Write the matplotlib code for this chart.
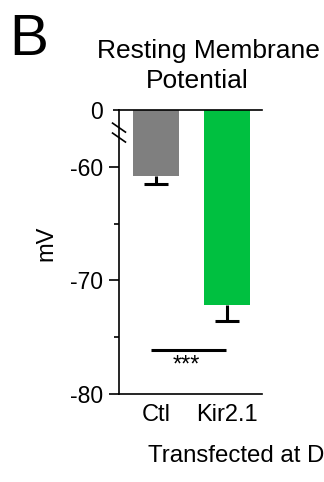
import matplotlib
matplotlib.use('Agg')
import matplotlib.pyplot as plt
import numpy as np

plt.rcParams['font.family'] = ['Liberation Sans', 'DejaVu Sans']

# ---- data ----
categories = ['Ctl', 'Kir2.1']
means = [-60.77, -72.20]
sems = [0.75, 1.37]
bar_colors = ['#7f7f7f', '#00c040']
axis_top = -55            # displayed as "0" (broken axis)
ytick_values = [-55, -60, -70, -80]
ytick_labels = ['0', '-60', '-70', '-80']
minor_tick_values = [-65, -75]
sig_span = [-0.07, 0.99]
sig_y = -76.17
sig_label = '***'
title_lines = ['Resting Membrane', 'Potential']
panel_label = 'B'
ylabel = 'mV'
xlabel = 'Transfected at D'

W, H = 324, 482
fig = plt.figure(figsize=(W / 100, H / 100), dpi=100)
ax = fig.add_axes([119 / W, 1 - 394 / H, 143 / W, 284 / H])

x = np.arange(len(categories))
means_arr = np.array(means)
sems_arr = np.array(sems)

ax.bar(x, means_arr - axis_top, bottom=axis_top, width=0.66,
       color=bar_colors, zorder=2)
ax.vlines(x, means_arr, means_arr - sems_arr, color='black', lw=2.2, zorder=3)
ax.hlines(means_arr - sems_arr, x - 0.17, x + 0.17, color='black', lw=2.2, zorder=3)

# significance
ax.plot(sig_span, [sig_y, sig_y], color='black', lw=2.2, solid_capstyle='butt')
ax.text(np.mean(sig_span) - 0.03, sig_y - 0.35, sig_label, ha='center', va='top',
        fontsize=17)

ax.set_xlim(-0.521, 1.493)
ax.set_ylim(-80, axis_top)

ax.set_yticks(ytick_values)
ax.set_yticklabels(ytick_labels)
ax.set_yticks(minor_tick_values, minor=True)
ax.tick_params(axis='y', which='major', length=7, width=1.2, pad=4.5, labelsize=16.5)
ax.tick_params(axis='y', which='minor', length=3.6, width=1.2)
ax.yaxis.get_major_ticks()[0].tick1line.set_markersize(4.5)

ax.set_xticks(x)
ax.set_xticklabels(categories)
ax.tick_params(axis='x', length=0, pad=7, labelsize=17)

for side in ['left', 'top', 'bottom']:
    ax.spines[side].set_linewidth(1.2)
ax.spines['right'].set_visible(False)

# axis break marks
for yc in [0.938, 0.903]:
    ax.plot([-0.045, 0.045], [yc + 0.0158, yc - 0.0158], transform=ax.transAxes,
            color='black', lw=1.2, clip_on=False)

# texts
fig.text(9 / W, 1 - 55 / H, panel_label, fontsize=42, ha='left', va='baseline')
fig.text(208 / W, 1 - 58 / H, title_lines[0], fontsize=19, ha='center', va='baseline')
fig.text(197 / W, 1 - 88 / H, title_lines[1], fontsize=19, ha='center', va='baseline')
fig.text(46 / W, 1 - 243 / H, ylabel, fontsize=17, rotation=90, ha='center', va='center')
fig.text(148 / W, 1 - 462 / H, xlabel, fontsize=17.3, ha='left', va='baseline')

fig.savefig('out.png', dpi=100)
